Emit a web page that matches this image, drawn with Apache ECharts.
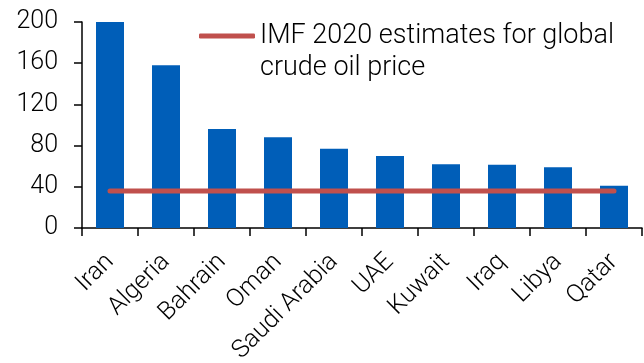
<!DOCTYPE html>
<html>
<head>
<meta charset="utf-8">
<script src="https://cdn.jsdelivr.net/npm/echarts@6/dist/echarts.min.js"></script>
<style>
  html, body { margin: 0; padding: 0; background: #fff; }
  #chart { width: 644px; height: 363px; }
</style>
</head>
<body>
<div id="chart"></div>
<script>
// categories and values
var countries = ['Iran', 'Algeria', 'Bahrain', 'Oman', 'Saudi Arabia', 'UAE', 'Kuwait', 'Iraq', 'Libya', 'Qatar']
var breakevenPrice = [201, 158, 96, 88, 77, 70, 62, 61.5, 59, 41]
var imfEstimate = [36, 36, 36, 36, 36, 36, 36, 36, 36, 36]
var lineName = 'IMF 2020 estimates for global'
var lineName2 = 'crude oil price'

var chart = echarts.init(document.getElementById('chart'))
var font = 'Roboto'

var option = {
  animation: false,
  grid: { left: 82, right: 2, top: 22, bottom: 135, outerBoundsMode: 'none' },
  legend: {
    data: [{ name: lineName, icon: 'roundRect' }],
    left: 194,
    top: -17,
    itemWidth: 56,
    itemHeight: 5,
    itemGap: 0,
    itemStyle: { color: '#C0504D' },
    // empty first line so the icon sits level with the first text line
    formatter: function (name) {
      return ' \n' + name + '\n' + lineName2
    },
    textStyle: {
      fontFamily: font,
      fontWeight: 300,
      fontSize: 27,
      lineHeight: 32,
      color: '#000'
    }
  },
  xAxis: {
    type: 'category',
    data: countries,
    axisLine: { lineStyle: { color: '#000', width: 1.5 } },
    axisTick: { show: true, length: 8, lineStyle: { color: '#000', width: 1.5 } },
    axisLabel: {
      rotate: 45,
      margin: 30,
      interval: 0,
      color: '#000',
      fontFamily: font,
      fontWeight: 300,
      fontSize: 25
    }
  },
  yAxis: {
    type: 'value',
    min: 0,
    max: 200,
    interval: 40,
    splitLine: { show: false },
    axisLine: { show: true, lineStyle: { color: '#000', width: 1.5 } },
    axisTick: { show: true, length: 8, lineStyle: { color: '#000', width: 1.5 } },
    axisLabel: {
      margin: 24,
      color: '#000',
      fontFamily: font,
      fontWeight: 300,
      fontSize: 25
    }
  },
  series: [
    {
      name: 'Breakeven',
      type: 'bar',
      barWidth: '50%',
      itemStyle: { color: '#005EB8' },
      data: breakevenPrice
    },
    {
      name: lineName,
      type: 'line',
      symbol: 'none',
      lineStyle: { color: '#C0504D', width: 5, cap: 'round' },
      itemStyle: { color: '#C0504D' },
      data: imfEstimate
    }
  ]
}
chart.setOption(option)
</script>
</body>
</html>
